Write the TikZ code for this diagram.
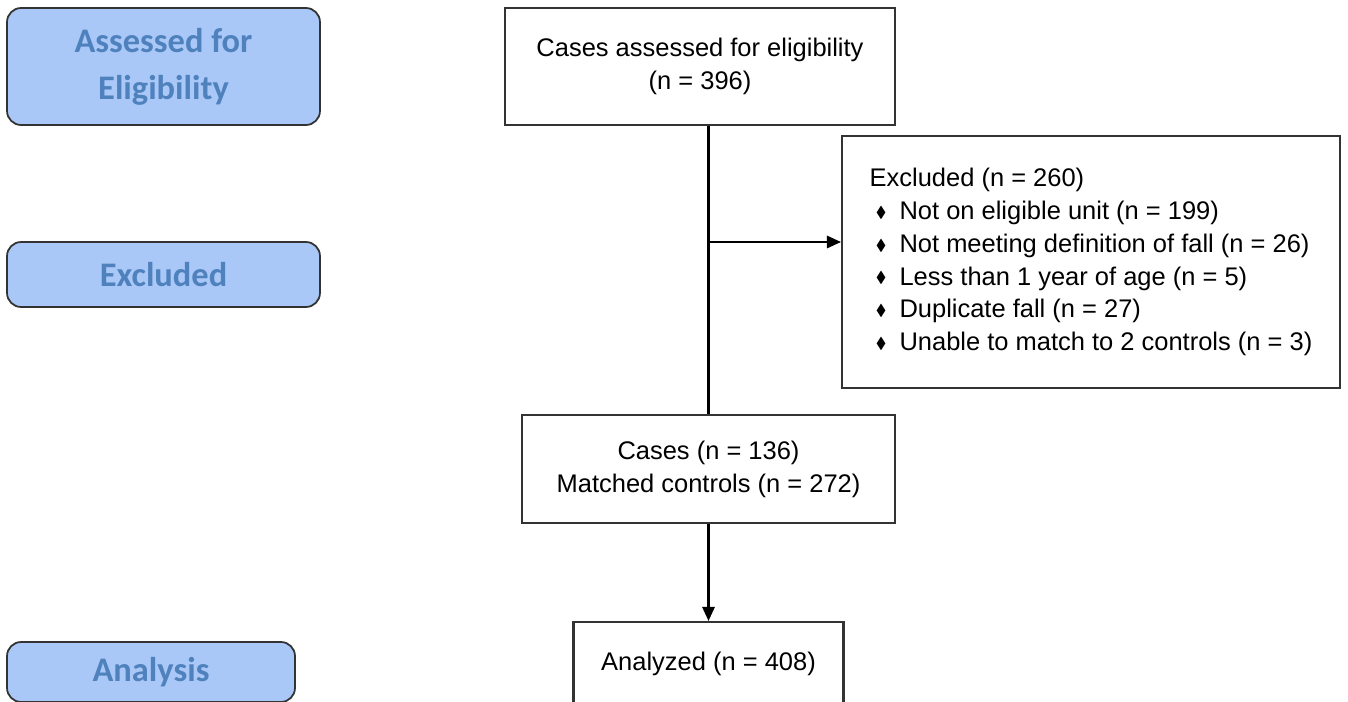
\documentclass[tikz,border=0pt]{standalone}
\usepackage{fontspec}
\usepackage{amssymb}
\setmainfont{Liberation Sans}
\newfontfamily\stagefont{Carlito}
\usetikzlibrary{positioning, arrows.meta}
\definecolor{stagefill}{RGB}{169,200,248}
\definecolor{stagetext}{RGB}{79,129,189}
\newcommand{\dbul}{\makebox[17pt][l]{\hspace{3.5pt}\raisebox{1.2pt}{\scalebox{0.62}{$\blacklozenge$}}}}
\tikzset{
    stage/.style={draw=black!80, line width=1pt, rounded corners=8pt, fill=stagefill,
        text=stagetext, font=\stagefont\bfseries\fontsize{19.6}{26.6}\selectfont,
        align=center, inner sep=0pt},
    flowbox/.style={draw=black!80, line width=1.2pt, fill=white,
        font=\fontsize{14.5}{18.7}\selectfont, align=center, inner sep=0pt},
    flow/.style={line width=1.2pt, -{Triangle[length=8pt, width=7pt]}},
}

\begin{document}
\begin{tikzpicture}[x=0.02cm, y=-0.02cm]
                \clip (0,0) rectangle (1348,702);
                % stages on the left
                \node[stage, minimum width=6.26cm, minimum height=2.34cm] (sAssess) at (163.5,66.5) {Assessed for\\Eligibility};
                \node[stage, minimum width=6.26cm, minimum height=1.3cm] (sExcl) at (163.5,274.5) {Excluded};
                \node[stage, minimum width=5.76cm, minimum height=1.2cm] (sAnalysis) at (151,672) {Analysis};

                % flow boxes
                \node[flowbox, minimum width=7.8cm, minimum height=2.34cm] (assess) at (700,66.5) {Cases assessed for eligibility\\(n = 396)};
                \node[flowbox, align=left, minimum width=9.96cm, minimum height=5.04cm] (excl) at (1091,262)
                    {Excluded (n = 260)\\
                     \dbul Not on eligible unit (n = 199)\\
                     \dbul Not meeting definition of fall (n = 26)\\
                     \dbul Less than 1 year of age (n = 5)\\
                     \dbul Duplicate fall (n = 27)\\
                     \dbul Unable to match to 2 controls (n = 3)};
                \node[flowbox, minimum width=7.46cm, minimum height=2.16cm] (matched) at (708.5,469) {Cases (n = 136)\\Matched controls (n = 272)};
                \node[flowbox, minimum width=5.4cm, minimum height=1.66cm] (analyzed) at (708.5,663.5) {Analyzed (n = 408)};

                \coordinate (split) at (708.5,242);

                \draw[line width=1.2pt] (matched.north) -- (matched.north |- assess.south);
                \draw[flow] (split) -- (excl.west |- split);
                \draw[flow] (matched.south) -- (analyzed.north);
            \end{tikzpicture}
\end{document}
